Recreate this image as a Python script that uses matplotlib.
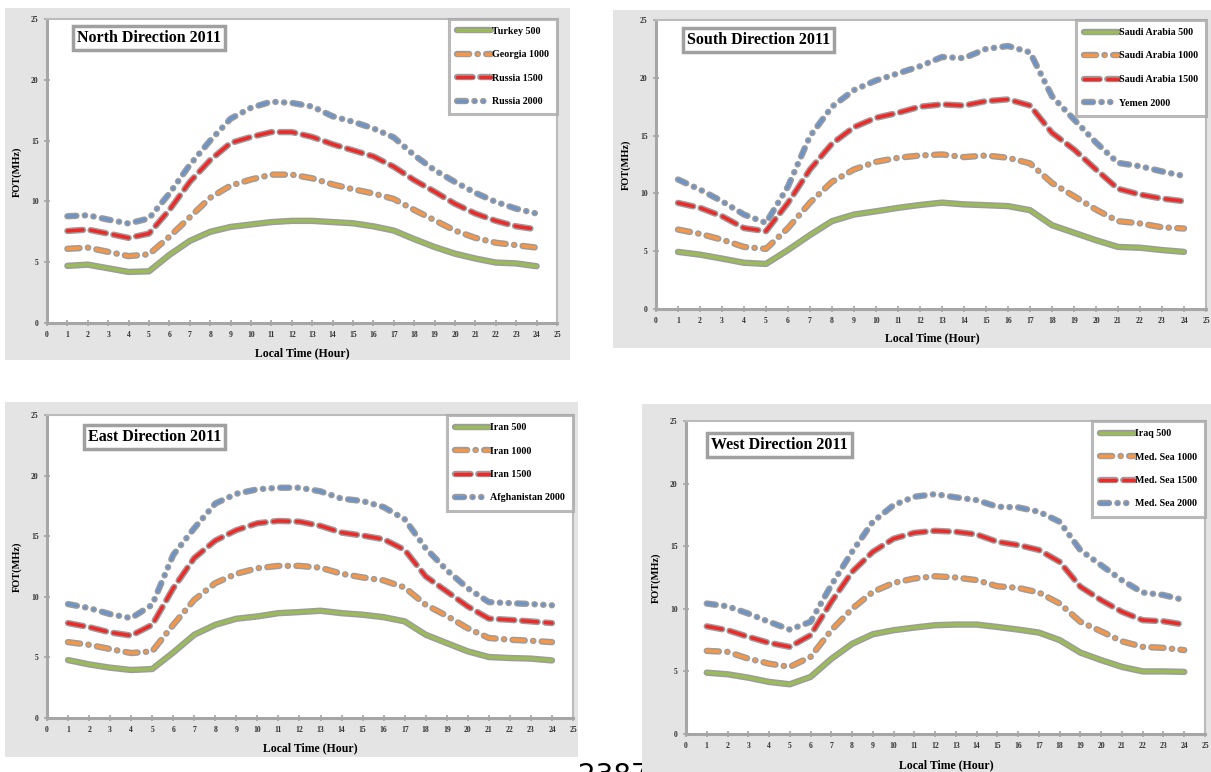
import matplotlib
matplotlib.use("Agg")
import matplotlib.pyplot as plt
import matplotlib.patheffects as pe
from matplotlib.patches import Rectangle

W, H = 1211, 772

hours = list(range(1, 25))

# North Direction 2011
north_labels = ["Turkey 500", "Georgia 1000", "Russia 1500", "Russia 2000"]
north_500 = [4.7, 4.8, 4.5, 4.2, 4.25, 5.6, 6.75, 7.5, 7.9, 8.1, 8.3, 8.4,
             8.4, 8.3, 8.2, 7.95, 7.6, 6.9, 6.25, 5.7, 5.3, 4.97, 4.9, 4.67]
north_1000 = [6.1, 6.2, 5.85, 5.5, 5.65, 7.1, 8.7, 10.3, 11.3, 11.8, 12.2, 12.2,
              11.9, 11.4, 11.0, 10.65, 10.2, 9.3, 8.45, 7.6, 7.0, 6.6, 6.4, 6.2]
north_1500 = [7.57, 7.68, 7.35, 7.0, 7.35, 9.3, 11.6, 13.4, 14.8, 15.3, 15.7, 15.7,
              15.3, 14.7, 14.2, 13.7, 12.85, 11.75, 10.8, 9.8, 9.0, 8.4, 7.95, 7.7]
north_2000 = [8.78, 8.86, 8.5, 8.18, 8.6, 10.65, 13.0, 15.0, 16.8, 17.7, 18.2, 18.1,
              17.8, 17.0, 16.55, 16.0, 15.26, 13.8, 12.57, 11.6, 10.7, 9.96, 9.4, 9.0]

# South Direction 2011
south_labels = ["Saudi Arabia 500", "Saudi Arabia 1000", "Saudi Arabia 1500", "Yemen 2000"]
south_500 = [4.94, 4.7, 4.36, 4.0, 3.9, 5.1, 6.4, 7.6, 8.17, 8.45, 8.75, 9.0,
             9.2, 9.05, 8.98, 8.9, 8.55, 7.25, 6.6, 5.95, 5.37, 5.3, 5.1, 4.94]
south_1000 = [6.87, 6.5, 6.0, 5.37, 5.2, 7.0, 9.2, 11.0, 12.07, 12.73, 13.08, 13.28,
              13.37, 13.14, 13.28, 13.08, 12.6, 10.9, 9.76, 8.6, 7.6, 7.4, 7.07, 6.96]
south_1500 = [9.18, 8.75, 8.03, 7.0, 6.73, 9.18, 12.07, 14.3, 15.73, 16.54, 16.97, 17.5,
              17.7, 17.6, 17.98, 18.13, 17.6, 15.24, 13.8, 12.07, 10.4, 9.9, 9.55, 9.32]
south_2000 = [11.2, 10.33, 9.32, 8.17, 7.45, 10.6, 14.95, 17.5, 18.94, 19.77, 20.38, 21.0,
              21.8, 21.7, 22.5, 22.75, 22.2, 18.4, 16.4, 14.4, 12.64, 12.35, 11.9, 11.5]

# East Direction 2011
east_labels = ["Iran 500", "Iran 1000", "Iran 1500", "Afghanistan 2000"]
east_500 = [4.78, 4.42, 4.15, 3.96, 4.04, 5.4, 6.87, 7.69, 8.19, 8.38, 8.65, 8.74,
            8.85, 8.65, 8.52, 8.32, 7.97, 6.87, 6.18, 5.5, 5.03, 4.95, 4.9, 4.75]
east_1000 = [6.26, 6.04, 5.69, 5.36, 5.5, 7.69, 9.75, 11.13, 11.9, 12.36, 12.55, 12.55,
             12.4, 11.9, 11.6, 11.35, 10.77, 9.34, 8.43, 7.4, 6.6, 6.46, 6.37, 6.26]
east_1500 = [7.83, 7.5, 7.06, 6.8, 7.69, 10.7, 13.2, 14.64, 15.5, 16.07, 16.26, 16.2,
             15.85, 15.3, 15.05, 14.75, 13.87, 11.68, 10.44, 9.2, 8.2, 8.1, 7.97, 7.83]
east_2000 = [9.4, 9.07, 8.57, 8.24, 9.34, 13.46, 15.66, 17.7, 18.5, 18.87, 19.0, 19.0,
             18.7, 18.1, 17.9, 17.4, 16.4, 14.0, 12.2, 10.7, 9.56, 9.48, 9.4, 9.3]

# West Direction 2011
west_labels = ["Iraq 500", "Med. Sea 1000", "Med. Sea 1500", "Med. Sea 2000"]
west_500 = [4.9, 4.77, 4.5, 4.16, 3.97, 4.56, 6.0, 7.2, 7.97, 8.29, 8.5, 8.69,
            8.74, 8.74, 8.55, 8.34, 8.1, 7.5, 6.5, 5.9, 5.36, 5.0, 5.0, 4.96]
west_1000 = [6.64, 6.56, 6.02, 5.62, 5.36, 6.16, 8.29, 10.0, 11.35, 12.07, 12.42, 12.6,
             12.5, 12.29, 11.8, 11.67, 11.3, 10.42, 8.96, 8.2, 7.4, 6.96, 6.88, 6.7]
west_1500 = [8.6, 8.29, 7.76, 7.28, 6.96, 7.89, 10.55, 12.95, 14.55, 15.6, 16.07, 16.23,
             16.15, 15.94, 15.35, 15.09, 14.7, 13.75, 11.76, 10.69, 9.76, 9.09, 9.0, 8.74]
west_2000 = [10.42, 10.2, 9.62, 8.96, 8.34, 8.96, 11.89, 14.55, 16.95, 18.28, 18.95, 19.16,
             18.9, 18.68, 18.15, 18.1, 17.75, 16.95, 14.68, 13.48, 12.28, 11.3, 11.1, 10.69]

line_colors = ["#9BBB59", "#F79646", "#F02828", "#6E93C6"]
# dash patterns in units of line width (solid, dash-dot, long dash, dash-dot-dot)
line_dashes = [None, (3.5, 2.4, 0.1, 2.4), (4.5, 2.2), (2.6, 2.4, 0.1, 2.4, 0.1, 2.4)]

SERIF = "Liberation Serif"
GRID_GREY = "#A6A6A6"


def px_rect(x0, y0, x1, y1):
    return [x0 / W, 1 - y1 / H, (x1 - x0) / W, (y1 - y0) / H]


def panel(fig, bg, box, title, title_xy, labels, series, xlab_xy, ylab_xy):
    # grey chart area
    fig.patches.append(Rectangle((bg[0] / W, 1 - bg[3] / H), (bg[2] - bg[0]) / W,
                                 (bg[3] - bg[1]) / H, transform=fig.transFigure,
                                 facecolor="#E4E4E4", edgecolor="none", zorder=1))
    ax = fig.add_axes(px_rect(*box))
    ax.set_zorder(2)
    ax.set_facecolor("white")
    for i, vals in enumerate(series):
        ln, = ax.plot(hours, vals, color=line_colors[i], lw=2.5, label=labels[i],
                      solid_capstyle="round", dash_capstyle="round")
        if line_dashes[i] is not None:
            ln.set_dashes(line_dashes[i])
        ln.set_path_effects([pe.Stroke(linewidth=4.6, foreground="#9C9C9C"), pe.Normal()])
    ax.set_xlim(0, 25)
    ax.set_ylim(0, 25)
    ax.set_xticks(range(0, 26))
    ax.set_yticks(range(0, 26, 5))
    ax.tick_params(direction="inout", length=4, width=1.2, color=GRID_GREY,
                   labelsize=5.5, pad=4)
    for t in ax.get_xticklabels() + ax.get_yticklabels():
        t.set_fontfamily(SERIF)
        t.set_fontweight("bold")
        t.set_color("#333333")
    for s in ["left", "bottom"]:
        ax.spines[s].set_color(GRID_GREY)
        ax.spines[s].set_linewidth(2.2)
    for s in ["top", "right"]:
        ax.spines[s].set_color("#BBBBBB")
        ax.spines[s].set_linewidth(1.5)

    leg = ax.legend(loc="upper right", borderaxespad=0, frameon=True, fancybox=False,
                    prop={"family": SERIF, "weight": "bold", "size": 7.2},
                    handlelength=3.4, handletextpad=0.1, labelspacing=1.45,
                    borderpad=0.8)
    leg.get_frame().set_edgecolor("#A8A8A8")
    leg.get_frame().set_linewidth(2.2)

    fig.text(title_xy[0] / W, 1 - title_xy[1] / H, title, family=SERIF, weight="bold",
             size=11.5, ha="left", va="center", zorder=5,
             bbox=dict(boxstyle="square,pad=0.25", facecolor="white",
                       edgecolor="#A0A0A0", linewidth=2.5))
    fig.text(xlab_xy[0] / W, 1 - xlab_xy[1] / H, "Local Time (Hour)", family=SERIF,
             weight="bold", size=8.5, ha="center", va="center", zorder=5)
    fig.text(ylab_xy[0] / W, 1 - ylab_xy[1] / H, "FOT(MHz)", family=SERIF,
             weight="bold", size=7.5, ha="center", va="center", rotation=90, zorder=5)
    return ax


fig = plt.figure(figsize=(W / 100, H / 100), dpi=100)
fig.patch.set_facecolor("white")

# page number, partly hidden under the last chart
fig.text(578 / W, 1 - 762 / H, "2387", family="DejaVu Sans", size=20, ha="left",
         va="top", zorder=0)

panel(fig, (5, 8, 570, 360), (47, 19, 557, 323), "North Direction 2011", (77, 38),
      north_labels, [north_500, north_1000, north_1500, north_2000],
      (302, 353), (17, 172))
panel(fig, (613, 10, 1211, 348), (656, 20, 1206, 309), "South Direction 2011", (687, 40),
      south_labels, [south_500, south_1000, south_1500, south_2000],
      (932, 338), (626, 165))
panel(fig, (5, 402, 578, 757), (47, 415, 573, 718), "East Direction 2011", (88, 437),
      east_labels, [east_500, east_1000, east_1500, east_2000],
      (310, 748), (17, 567))
panel(fig, (642, 404, 1211, 772), (686, 421, 1205, 734), "West Direction 2011", (711, 445),
      west_labels, [west_500, west_1000, west_1500, west_2000],
      (946, 765), (656, 578))

fig.savefig("out.png", dpi=100, facecolor="white")
